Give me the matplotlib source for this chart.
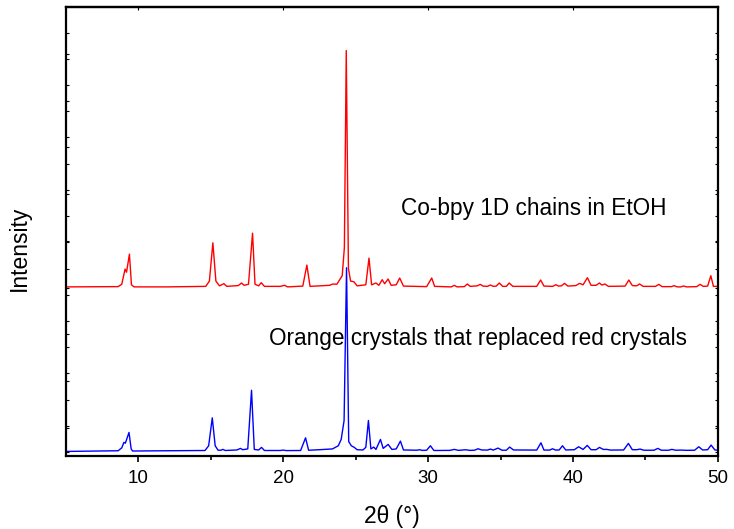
import matplotlib
matplotlib.use('Agg')
import matplotlib.pyplot as plt
import numpy as np

plt.rcParams['font.family'] = ['Liberation Sans', 'DejaVu Sans']

# blue pattern: orange crystals that replaced red crystals (2theta, counts)
two_theta_blue = [5.0, 8.6, 8.85, 9.0, 9.1, 9.35, 9.5, 9.6, 12.0, 14.6, 14.85, 15.1, 15.3, 15.5,
                  15.7, 15.83, 16.0, 16.8, 17.05, 17.2, 17.55, 17.81, 18.0, 18.3, 18.5, 18.7,
                  19.8, 20.0, 20.2, 21.2, 21.54, 21.75, 22.5, 23.4, 23.8, 24.0, 24.2, 24.37,
                  24.52, 24.7, 24.9, 25.1, 25.5, 25.7, 25.88, 26.05, 26.25, 26.4, 26.71, 26.9,
                  27.24, 27.5, 27.8, 28.09, 28.3, 29.2, 29.42, 29.6, 29.9, 30.16, 30.4, 31.5,
                  31.81, 32.1, 32.57, 32.9, 33.2, 33.45, 33.7, 34.1, 34.3, 34.5, 34.83, 35.1,
                  35.4, 35.63, 35.9, 37.5, 37.79, 38.0, 38.4, 38.59, 38.8, 39.05, 39.28, 39.5,
                  40.1, 40.39, 40.7, 40.99, 41.25, 41.6, 41.83, 42.1, 42.34, 42.6, 43.5, 43.83,
                  44.1, 44.4, 44.64, 44.9, 45.6, 45.86, 46.1, 46.6, 46.83, 47.1, 47.5, 47.8,
                  48.4, 48.69, 48.95, 49.3, 49.54, 49.8, 50.0]
intensity_blue = [12, 25, 80, 184, 170, 374, 60, 20, 25, 30, 120, 652, 120, 35,
                  35, 51, 30, 40, 70, 45, 60, 1178, 50, 40, 89, 30,
                  30, 38, 28, 30, 272, 35, 45, 60, 120, 241, 600, 3515,
                  200, 120, 90, 45, 40, 90, 602, 60, 95, 50, 241, 70,
                  146, 50, 60, 209, 40, 35, 44, 32, 35, 120, 30, 32,
                  51, 32, 44, 32, 35, 63, 40, 38, 57, 38, 76, 35,
                  35, 95, 40, 38, 177, 38, 38, 63, 38, 40, 120, 40,
                  45, 101, 50, 127, 45, 45, 89, 50, 51, 38, 40, 165,
                  45, 45, 57, 35, 35, 70, 35, 35, 51, 35, 38, 33,
                  35, 101, 40, 45, 133, 40, 35]

# red pattern: Co-bpy 1D chains in EtOH (offset upwards)
two_theta_red = [5.0, 8.6, 8.85, 9.08, 9.18, 9.38, 9.52, 9.7, 12.0, 14.65, 14.9, 15.14, 15.35,
                 15.6, 15.9, 16.1, 16.9, 17.12, 17.3, 17.6, 17.88, 18.05, 18.3, 18.48, 18.7,
                 19.8, 20.09, 20.3, 21.35, 21.63, 21.85, 23.2, 23.42, 23.7, 24.07, 24.22, 24.35,
                 24.5, 24.65, 24.87, 25.1, 25.7, 25.92, 26.1, 26.4, 26.6, 26.83, 27.0, 27.24,
                 27.45, 27.8, 28.04, 28.3, 29.9, 30.25, 30.45, 31.6, 31.81, 32.0, 32.5, 32.71,
                 32.9, 33.4, 33.6, 33.8, 34.1, 34.3, 34.5, 34.7, 34.92, 35.15, 35.4, 35.6,
                 35.85, 37.5, 37.77, 38.0, 38.6, 38.83, 39.0, 39.2, 39.42, 39.65, 40.2, 40.46,
                 40.7, 41.0, 41.25, 41.6, 41.83, 42.0, 42.2, 42.45, 43.6, 43.86, 44.1, 44.4,
                 44.6, 44.85, 45.7, 45.93, 46.15, 46.8, 46.99, 47.2, 47.45, 47.63, 47.85, 48.55,
                 48.78, 49.0, 49.3, 49.52, 49.7, 50.0]
intensity_red = [3150, 3155, 3200, 3490, 3430, 3775, 3190, 3150, 3150, 3160, 3260, 3990, 3260,
                 3170, 3211, 3160, 3175, 3224, 3180, 3200, 4174, 3200, 3170, 3230, 3160,
                 3160, 3180, 3150, 3165, 3566, 3160, 3180, 3205, 3200, 3363, 3900, 7657,
                 3500, 3260, 3249, 3170, 3190, 3699, 3190, 3224, 3180, 3287, 3210, 3300,
                 3180, 3190, 3319, 3165, 3155, 3319, 3160, 3150, 3179, 3150, 3155, 3205,
                 3160, 3170, 3198, 3165, 3160, 3186, 3160, 3165, 3224, 3160, 3160, 3224,
                 3160, 3160, 3281, 3165, 3160, 3192, 3165, 3170, 3217, 3165, 3175, 3217,
                 3190, 3325, 3180, 3180, 3224, 3185, 3205, 3160, 3165, 3281, 3175, 3170,
                 3205, 3160, 3160, 3198, 3155, 3155, 3173, 3150, 3150, 3167, 3150, 3155,
                 3198, 3160, 3165, 3363, 3160, 3160]

label_red = 'Co-bpy 1D chains in EtOH'
label_blue = 'Orange crystals that replaced red crystals'

fig = plt.figure(figsize=(7.34, 5.29), dpi=100)
ax = fig.add_axes([0.0899, 0.138, 0.888, 0.849])

ax.plot(two_theta_red, intensity_red, color='#ff0000', lw=1.0)
ax.plot(two_theta_blue, intensity_blue, color='#0000ff', lw=1.0)

ax.set_xlim(5, 50)
ax.set_ylim(-75, 8490)

ax.set_xticks([10, 20, 30, 40, 50])
ax.set_xticks([15, 25, 35, 45], minor=True)
ax.tick_params(axis='x', which='major', direction='out', length=4, width=1.2,
               labelsize=13.5, pad=6)
ax.tick_params(axis='x', which='minor', direction='out', length=3, width=1.2)

# two overlaid sets of y ticks (no labels), as in the original
ax.set_yticks(np.arange(0, 8500, 500))
ax.set_yticks([464, 1355, 2246, 3137, 4028, 4919, 5810, 6701, 7592], minor=True)
ax.tick_params(axis='y', which='both', direction='in', length=2, width=0.8,
               left=True, right=True, labelleft=False)

top = ax.secondary_xaxis('top')
top.set_xticks([10, 20, 30, 40, 50])
top.tick_params(direction='in', length=2, width=0.8, labeltop=False)
top.spines['top'].set_linewidth(1.6)

for s in ax.spines.values():
    s.set_linewidth(1.6)

ax.set_xlabel('2θ (°)', fontsize=16.5, labelpad=13)
ax.set_ylabel('Intensity', fontsize=16.5)
ax.yaxis.set_label_coords(-0.054, 0.463)

ax.text(28.1, 4640, label_red, fontsize=16.3, va='center', ha='left')
ax.text(19.0, 2160, label_blue, fontsize=16.3, va='center', ha='left')

plt.savefig('out.png', dpi=100)
